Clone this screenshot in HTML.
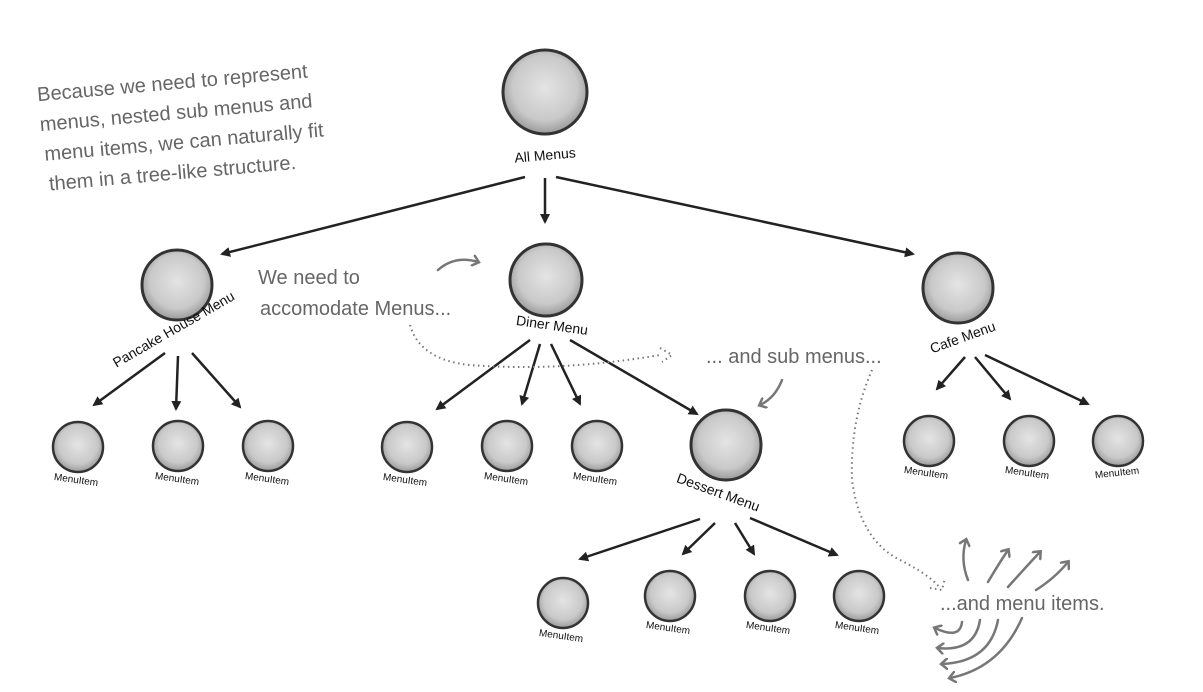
<!DOCTYPE html>
<html><head><meta charset="utf-8"><style>
html,body{margin:0;padding:0;background:#fff;width:1203px;height:692px;overflow:hidden}
svg{display:block}
text{font-family:"Liberation Sans",sans-serif}
.h{fill:#666;font-size:20px}
.lbl{fill:#111;font-size:14px}
.mi{fill:#111;font-size:10px}
</style></head><body>
<svg width="1203" height="692" viewBox="0 0 1203 692" xmlns="http://www.w3.org/2000/svg">
<defs>
<radialGradient id="g" cx="50%" cy="45%" r="55%">
<stop offset="0" stop-color="#e4e4e4"/><stop offset="0.7" stop-color="#c9c9c9"/><stop offset="1" stop-color="#9a9a9a"/>
</radialGradient>
<marker id="a" markerWidth="10" markerHeight="10" refX="8" refY="5" orient="auto" markerUnits="userSpaceOnUse">
<path d="M0,0 L10,5 L0,10 z" fill="#222"/></marker>
<marker id="b" markerWidth="12" markerHeight="12" refX="6" refY="6" orient="auto" markerUnits="userSpaceOnUse">
<path d="M0,0 L7,6 L0,12" fill="none" stroke="#777" stroke-width="2.5"/></marker>
</defs>
<g fill="url(#g)" stroke="#333" stroke-width="3">
<circle cx="545" cy="92" r="42"/>
<circle cx="177" cy="285" r="35"/>
<circle cx="546" cy="280" r="36"/>
<circle cx="958" cy="288" r="35"/>
<circle cx="726" cy="445" r="35"/>
</g>
<g fill="url(#g)" stroke="#333" stroke-width="2.5">
<circle cx="78" cy="447" r="25"/><circle cx="178" cy="446" r="25"/><circle cx="268" cy="446" r="25"/>
<circle cx="407" cy="447" r="25"/><circle cx="507" cy="446" r="25"/><circle cx="597" cy="446" r="25"/>
<circle cx="929" cy="441" r="25"/><circle cx="1029" cy="441" r="25"/><circle cx="1118" cy="441" r="25"/>
<circle cx="563" cy="603" r="25"/><circle cx="670" cy="596" r="25"/><circle cx="770" cy="596" r="25"/><circle cx="859" cy="596" r="25"/>
</g>
<g stroke="#222" stroke-width="2.5" marker-end="url(#a)">
<line x1="525" y1="177" x2="222" y2="254"/>
<line x1="545" y1="178" x2="545" y2="222"/>
<line x1="556" y1="177" x2="913" y2="254"/>
<line x1="165" y1="353" x2="94" y2="405"/>
<line x1="178" y1="356" x2="176" y2="409"/>
<line x1="192" y1="353" x2="240" y2="407"/>
<line x1="530" y1="340" x2="437" y2="409"/>
<line x1="540" y1="344" x2="522" y2="404"/>
<line x1="551" y1="344" x2="580" y2="404"/>
<line x1="570" y1="340" x2="697" y2="414"/>
<line x1="965" y1="357" x2="937" y2="389"/>
<line x1="975" y1="357" x2="1010" y2="399"/>
<line x1="985" y1="355" x2="1088" y2="404"/>
<line x1="700" y1="519" x2="580" y2="559"/>
<line x1="715" y1="523" x2="683" y2="554"/>
<line x1="735" y1="523" x2="754" y2="554"/>
<line x1="750" y1="518" x2="837" y2="555"/>
</g>
<text class="lbl" x="545" y="160" text-anchor="middle" transform="rotate(-5 545 155)">All Menus</text>
<text class="lbl" x="174" y="334" text-anchor="middle" transform="rotate(-30 174 330)">Pancake House Menu</text>
<text class="lbl" x="552" y="330" text-anchor="middle" transform="rotate(8 552 326)">Diner Menu</text>
<text class="lbl" x="963" y="342" text-anchor="middle" transform="rotate(-20 963 338)">Cafe Menu</text>
<text class="lbl" x="718" y="497" text-anchor="middle" transform="rotate(20 718 493)">Dessert Menu</text>
<g class="mi" text-anchor="middle">
<text x="76" y="483" transform="rotate(8 76 480)">MenuItem</text>
<text x="177" y="482" transform="rotate(8 177 479)">MenuItem</text>
<text x="267" y="482" transform="rotate(8 267 479)">MenuItem</text>
<text x="405" y="483" transform="rotate(8 405 480)">MenuItem</text>
<text x="506" y="482" transform="rotate(8 506 479)">MenuItem</text>
<text x="595" y="482" transform="rotate(8 595 479)">MenuItem</text>
<text x="926" y="476" transform="rotate(8 926 473)">MenuItem</text>
<text x="1027" y="476" transform="rotate(8 1027 473)">MenuItem</text>
<text x="1117" y="476" transform="rotate(-6 1117 473)">MenuItem</text>
<text x="561" y="639" transform="rotate(8 561 636)">MenuItem</text>
<text x="668" y="631" transform="rotate(8 668 628)">MenuItem</text>
<text x="768" y="631" transform="rotate(8 768 628)">MenuItem</text>
<text x="857" y="631" transform="rotate(8 857 628)">MenuItem</text>
</g>
<g class="h" transform="rotate(-5 190 120)">
<text x="40" y="88">Because we need to represent</text>
<text x="40" y="118">menus, nested sub menus and</text>
<text x="42" y="148">menu items, we can naturally fit</text>
<text x="44" y="178">them in a tree-like structure.</text>
</g>
<text class="h" x="258" y="284">We need to</text>
<text class="h" x="260" y="315">accomodate Menus...</text>
<text class="h" x="706" y="363">... and sub menus...</text>
<text class="h" x="940" y="610">...and menu items.</text>
<g fill="none" stroke="#777" stroke-width="2.5" stroke-linecap="round">
<path d="M438,270 Q455,255 478,262" marker-end="url(#b)"/>
<path d="M782,380 Q775,398 760,405" marker-end="url(#b)"/>
<path d="M968,580 Q960,560 966,540" marker-end="url(#b)"/>
<path d="M988,582 Q998,565 1008,550" marker-end="url(#b)"/>
<path d="M1008,587 Q1025,568 1040,552" marker-end="url(#b)"/>
<path d="M1036,590 Q1055,578 1068,562" marker-end="url(#b)"/>
<path d="M962,622 Q960,640 935,628" marker-end="url(#b)"/>
<path d="M980,620 Q975,652 938,648" marker-end="url(#b)"/>
<path d="M998,620 Q990,662 942,664" marker-end="url(#b)"/>
<path d="M1022,618 Q1000,668 950,678" marker-end="url(#b)"/>
</g>
<g fill="none" stroke="#777" stroke-width="2" stroke-dasharray="1.5 3.5">
<path d="M410,325 Q420,360 470,365 Q560,372 660,355" />
<path d="M660,348 L672,355 L662,362"/>
<path d="M872,370 Q850,420 852,480 Q860,540 900,560 Q930,575 940,588"/>
<path d="M930,588 L942,590 L945,578"/>
</g>
</svg>
</body></html>
